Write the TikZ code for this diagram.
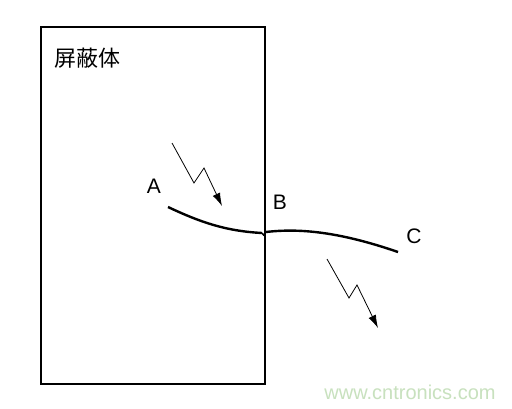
\documentclass[tikz,border=0pt]{standalone}
\usepackage{fontspec}
\setmainfont{Liberation Sans}
\newfontfamily\cjk{Noto Sans CJK SC}
\usetikzlibrary{arrows.meta}
\definecolor{wm}{RGB}{200,225,190}
\begin{document}
\begin{tikzpicture}[x=1pt,y=-1pt,
  box/.style={draw,line width=1.1pt},
  cable/.style={line width=2.4pt},
  bolt/.style={line width=0.8pt,-{Latex[length=13pt,width=8pt]}},
  lbl/.style={inner sep=0pt,font=\fontsize{21}{21}\selectfont}]
\useasboundingbox (0,0) rectangle (512,408);
\fill[white] (0,0) rectangle (512,408);
\draw[box] (41,27) rectangle (265,384);
\node[inner sep=0pt,font=\cjk\fontsize{22}{22}\selectfont] (title) at (87,58) {屏蔽体};
% cable
\coordinate (pA) at (168,207);
\coordinate (pB1) at (262,233);
\coordinate (pB2) at (266,232);
\coordinate (pC) at (398,252);
\draw[cable] (pA) .. controls (200,222) and (225,231) .. (pB1);
\draw[line width=1.4pt] (pB1) -- (263.5,235) -- (pB2);
\draw[cable] (pB2) .. controls (300,228) and (340,232) .. (pC);
% labels
\node[lbl] (A) at (154,186) {A};
\node[lbl] (B) at (280,202) {B};
\node[lbl] (C) at (414,236) {C};
% lightning bolts
\coordinate (l1a) at (172,143);
\coordinate (l1b) at (194,183);
\coordinate (l1c) at (204,168);
\coordinate (l1d) at (222,206);
\draw[bolt] (l1a) -- (l1b) -- (l1c) -- (l1d);
\coordinate (l2a) at (327,259);
\coordinate (l2b) at (349,298);
\coordinate (l2c) at (357,285);
\coordinate (l2d) at (378,328);
\draw[bolt] (l2a) -- (l2b) -- (l2c) -- (l2d);
% watermark
\node[inner sep=0pt,text=wm,font=\fontsize{20}{20}\selectfont] (wmk) at (410,392) {www.cntronics.com};
\end{tikzpicture}
\end{document}
